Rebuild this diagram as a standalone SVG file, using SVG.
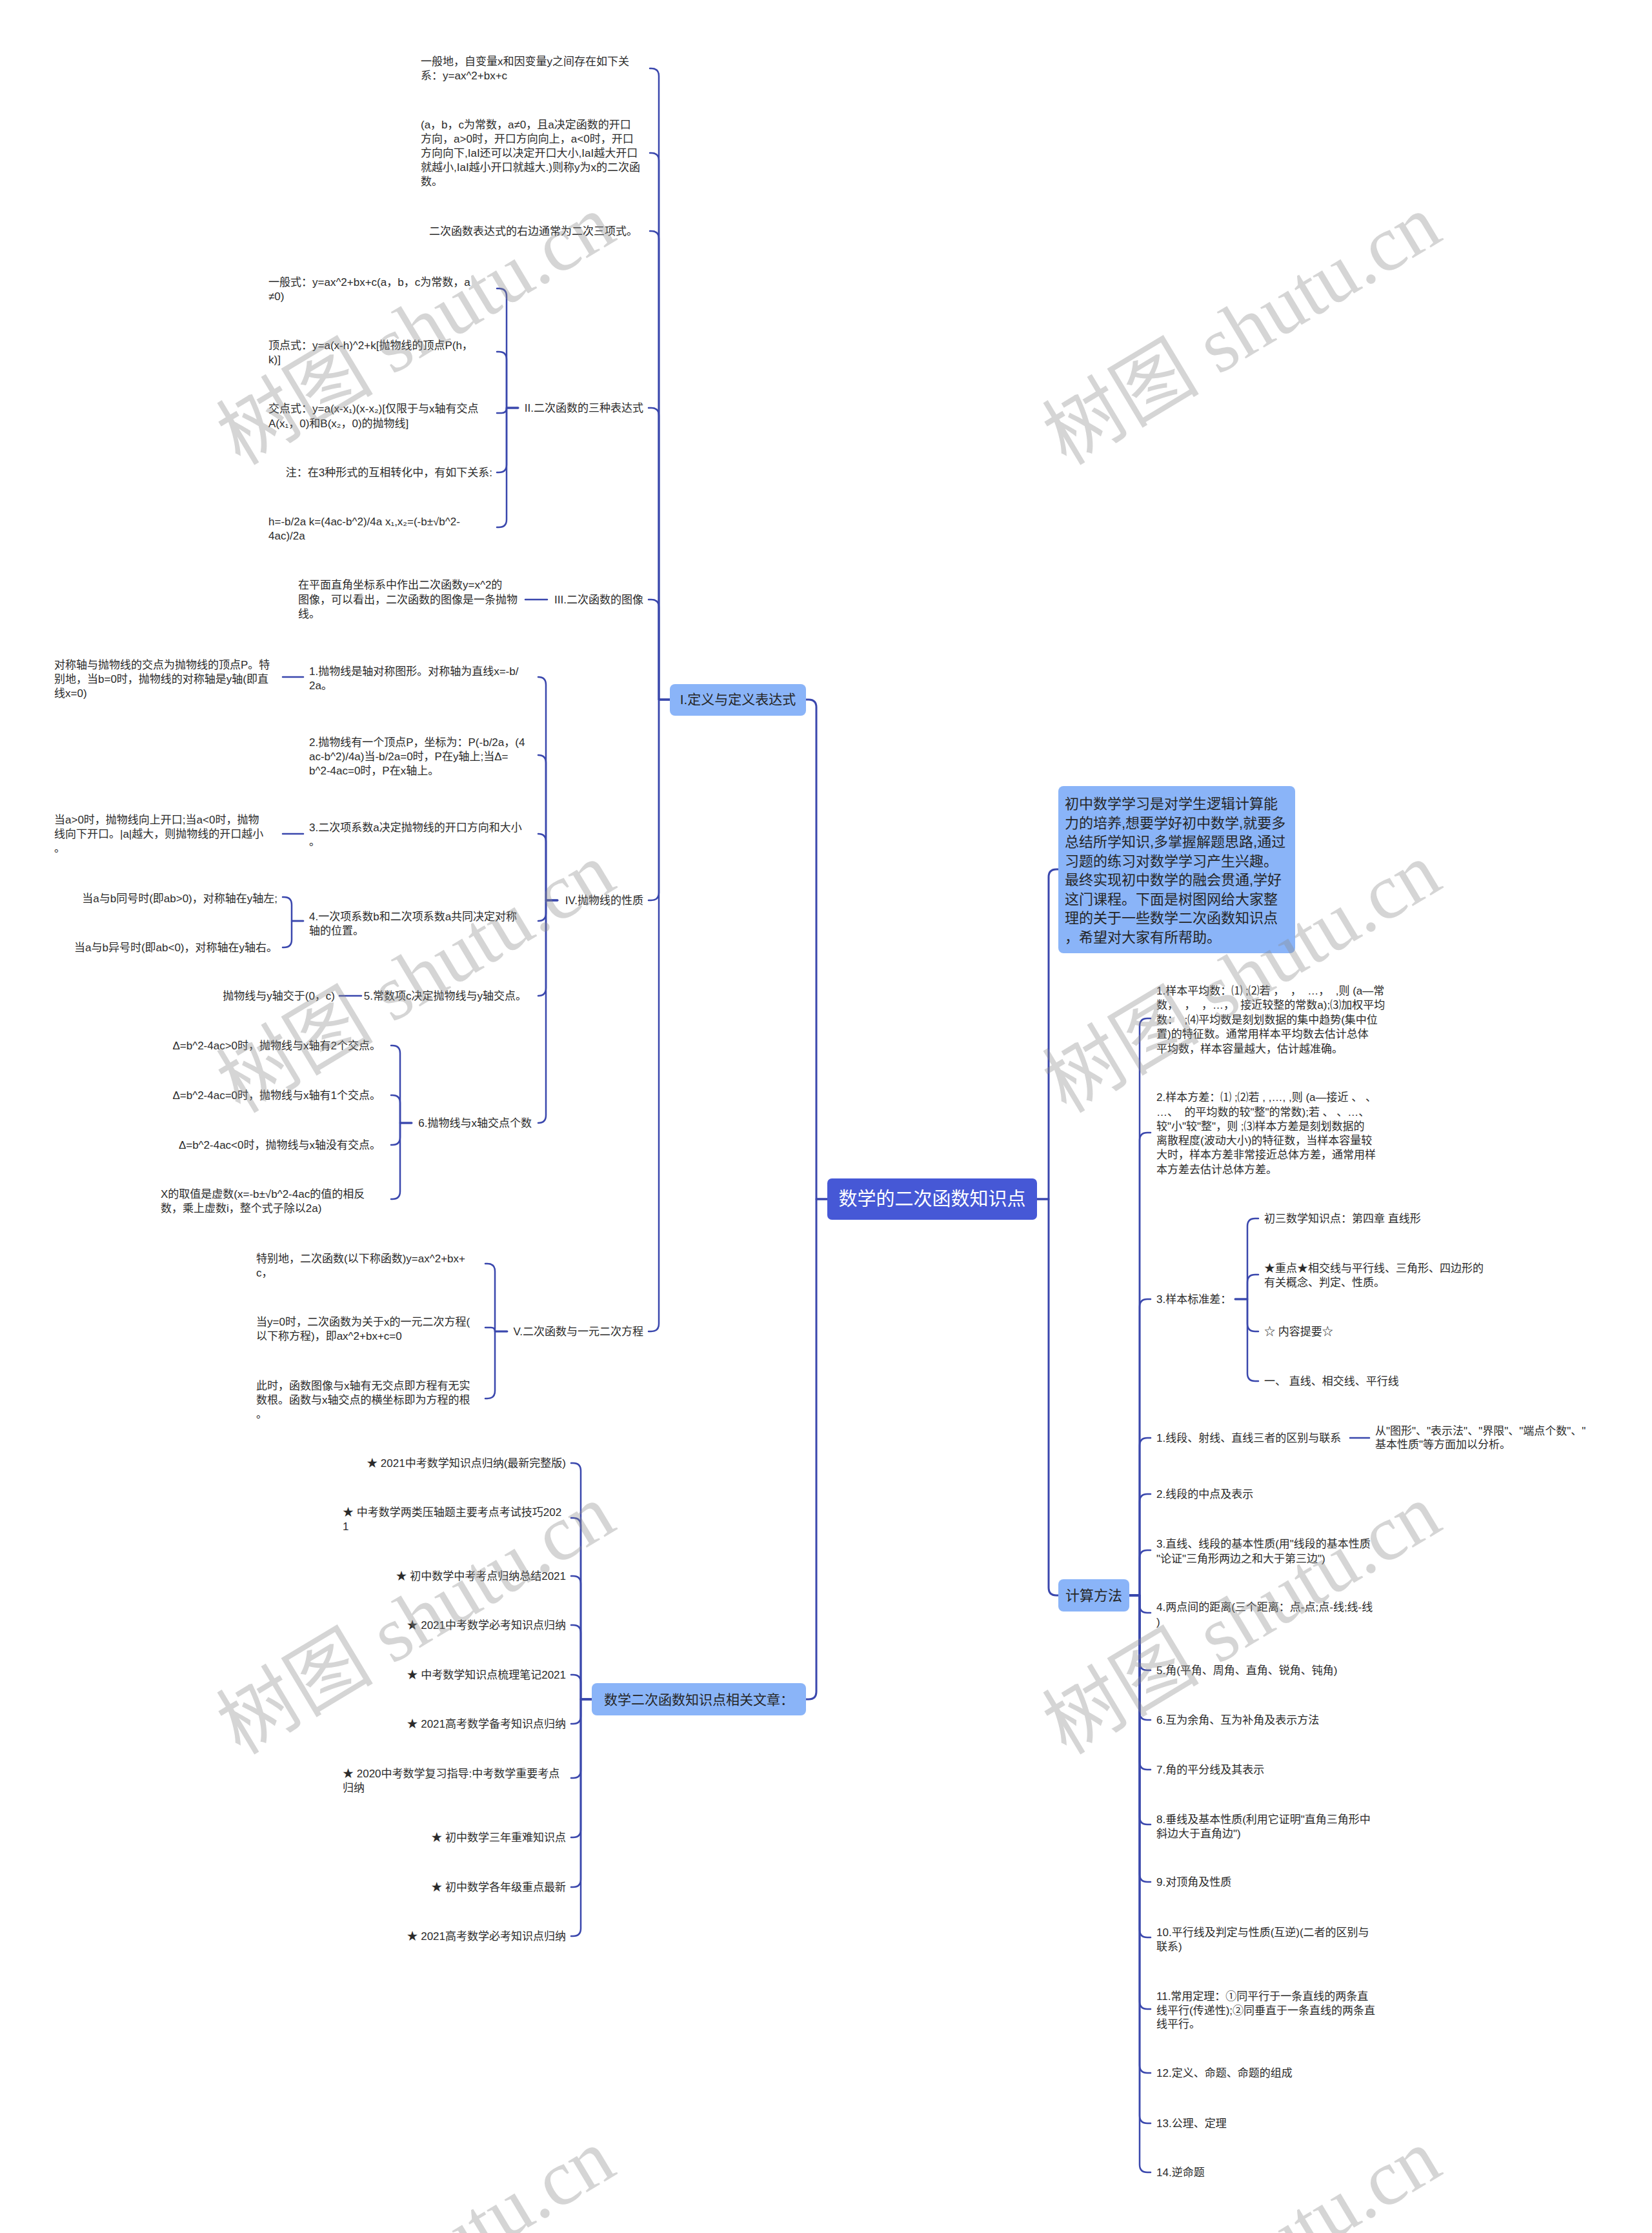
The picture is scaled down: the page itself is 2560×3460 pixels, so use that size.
<svg xmlns="http://www.w3.org/2000/svg" width="2560" height="3460" viewBox="0 0 2560 3460">
<style>
.t{font-family:"Liberation Sans","Noto Sans CJK SC",sans-serif;font-size:17px;fill:#2b2b2b;white-space:pre}
.e{text-anchor:end}
.m{text-anchor:middle}
.n1{fill:#8ab4f8}
.l1{font-family:"Liberation Sans","Noto Sans CJK SC",sans-serif;font-size:21px;fill:#262626}
.l1b{font-family:"Liberation Sans","Noto Sans CJK SC",sans-serif;font-size:22px;fill:#262626}
.c{fill:none;stroke:#3a47ad;stroke-width:2.5;stroke-linecap:round;stroke-linejoin:round}
.c0{stroke-width:3}
.wm{font-family:"Liberation Serif","Noto Sans CJK SC",serif;font-size:122px;fill:#8a8a8a;fill-opacity:0.36;text-anchor:middle}
</style>
<rect width="2560" height="3460" fill="#ffffff"/>

<g id="connectors">
<path class="c c0" d="M1282 1858 H1265 V1096 Q1265 1084 1253 1084 H1249"/>
<path class="c c0" d="M1282 1858 H1265 V2621 Q1265 2633 1253 2633 H1249"/>
<path class="c c0" d="M1607 1858 H1625 V1359 Q1625 1347 1637 1347 H1640"/>
<path class="c c0" d="M1607 1858 H1625 V2460 Q1625 2472 1637 2472 H1640"/>

<path class="c" d="M1038 1084 H1021 V118 Q1021 106 1009 106 H1007"/>
<path class="c" d="M1038 1084 H1021 V249 Q1021 237 1009 237 H1007"/>
<path class="c" d="M1038 1084 H1021 V370 Q1021 358 1009 358 H1007"/>
<path class="c" d="M1038 1084 H1021 V644 Q1021 632 1009 632 H1005"/>
<path class="c" d="M1038 1084 H1021 V941 Q1021 929 1009 929 H1005"/>
<path class="c" d="M1038 1084 H1021 V1383 Q1021 1395 1009 1395 H1005"/>
<path class="c" d="M1038 1084 H1021 V2051 Q1021 2063 1009 2063 H1005"/>

<path class="c" d="M803 632 H785 V459 Q785 447 773 447 H770"/>
<path class="c" d="M803 632 H785 V557 Q785 545 773 545 H770"/>
<path class="c" d="M803 632 H785 Q785 640 777 640 H770"/>
<path class="c" d="M803 632 H785 V720 Q785 732 773 732 H770"/>
<path class="c" d="M803 632 H785 V805 Q785 817 773 817 H770"/>

<path class="c" d="M848 929 H814"/>

<path class="c" d="M864 1395 H846 V1061 Q846 1049 834 1049"/>
<path class="c" d="M864 1395 H846 V1182 Q846 1170 834 1170"/>
<path class="c" d="M864 1395 H846 V1304 Q846 1292 834 1292"/>
<path class="c" d="M864 1395 H846 V1415 Q846 1427 834 1427"/>
<path class="c" d="M864 1395 H846 V1531 Q846 1543 834 1543"/>
<path class="c" d="M864 1395 H846 V1728 Q846 1740 834 1740"/>

<path class="c" d="M470 1049 H438"/>
<path class="c" d="M470 1292 H438"/>
<path class="c" d="M470 1427 H452 V1402 Q452 1390 440 1390 H438"/>
<path class="c" d="M470 1427 H452 V1456 Q452 1468 440 1468 H438"/>
<path class="c" d="M560 1543 H526"/>
<path class="c" d="M638 1740 H620 V1632 Q620 1620 608 1620 H606"/>
<path class="c" d="M638 1740 H620 V1709 Q620 1697 608 1697 H606"/>
<path class="c" d="M638 1740 H620 V1762 Q620 1774 608 1774 H606"/>
<path class="c" d="M638 1740 H620 V1846 Q620 1858 608 1858 H606"/>

<path class="c" d="M786 2063 H767 V1970 Q767 1958 755 1958 H752"/>
<path class="c" d="M786 2063 H767 Q767 2057 761 2057 H752"/>
<path class="c" d="M786 2063 H767 V2155 Q767 2167 755 2167 H752"/>

<path class="c" d="M917 2633 H900 V2279 Q900 2267 888 2267 H885"/>
<path class="c" d="M917 2633 H900 V2364 Q900 2352 888 2352 H885"/>
<path class="c" d="M917 2633 H900 V2454 Q900 2442 888 2442 H885"/>
<path class="c" d="M917 2633 H900 V2530 Q900 2518 888 2518 H885"/>
<path class="c" d="M917 2633 H900 V2607 Q900 2595 888 2595 H885"/>
<path class="c" d="M917 2633 H900 V2659 Q900 2671 888 2671 H885"/>
<path class="c" d="M917 2633 H900 V2743 Q900 2755 888 2755 H885"/>
<path class="c" d="M917 2633 H900 V2835 Q900 2847 888 2847 H885"/>
<path class="c" d="M917 2633 H900 V2912 Q900 2924 888 2924 H885"/>
<path class="c" d="M917 2633 H900 V2988 Q900 3000 888 3000 H885"/>

<path class="c" d="M1750 2472 H1766 V1590 Q1766 1578 1778 1578 H1783"/>
<path class="c" d="M1750 2472 H1766 V1767 Q1766 1755 1778 1755 H1783"/>
<path class="c" d="M1750 2472 H1766 V2025 Q1766 2013 1778 2013 H1783"/>
<path class="c" d="M1750 2472 H1766 V2240 Q1766 2228 1778 2228 H1783"/>
<path class="c" d="M1750 2472 H1766 V2327 Q1766 2315 1778 2315 H1783"/>
<path class="c" d="M1750 2472 H1766 V2414 Q1766 2402 1778 2402 H1783"/>
<path class="c" d="M1750 2472 H1766 V2487 Q1766 2499 1778 2499 H1783"/>
<path class="c" d="M1750 2472 H1766 V2576 Q1766 2588 1778 2588 H1783"/>
<path class="c" d="M1750 2472 H1766 V2653 Q1766 2665 1778 2665 H1783"/>
<path class="c" d="M1750 2472 H1766 V2730 Q1766 2742 1778 2742 H1783"/>
<path class="c" d="M1750 2472 H1766 V2815 Q1766 2827 1778 2827 H1783"/>
<path class="c" d="M1750 2472 H1766 V2904 Q1766 2916 1778 2916 H1783"/>
<path class="c" d="M1750 2472 H1766 V2990 Q1766 3002 1778 3002 H1783"/>
<path class="c" d="M1750 2472 H1766 V3101 Q1766 3113 1778 3113 H1783"/>
<path class="c" d="M1750 2472 H1766 V3200 Q1766 3212 1778 3212 H1783"/>
<path class="c" d="M1750 2472 H1766 V3278 Q1766 3290 1778 3290 H1783"/>
<path class="c" d="M1750 2472 H1766 V3354 Q1766 3366 1778 3366 H1783"/>

<path class="c" d="M1914 2013 H1933 V1900 Q1933 1888 1945 1888 H1950"/>
<path class="c" d="M1914 2013 H1933 V1987 Q1933 1975 1945 1975 H1950"/>
<path class="c" d="M1914 2013 H1933 V2051 Q1933 2063 1945 2063 H1950"/>
<path class="c" d="M1914 2013 H1933 V2128 Q1933 2140 1945 2140 H1950"/>

<path class="c" d="M2092 2228 H2122"/>
</g>

<g id="root">
<rect x="1282" y="1826" width="325" height="64" rx="7" fill="#4658d6"/>
<text x="1444.5" y="1868" class="m" font-family="Liberation Sans,Noto Sans CJK SC,sans-serif" font-size="29" fill="#ffffff">数学的二次函数知识点</text>
</g>

<g id="node-I">
<rect class="n1" x="1038" y="1060" width="211" height="49" rx="8"/>
<text class="l1 m" x="1143.5" y="1091">I.定义与定义表达式</text>
</g>

<g id="node-articles">
<rect class="n1" x="917" y="2608" width="332" height="50" rx="8"/>
<text class="l1 m" x="1083" y="2641">数学二次函数知识点相关文章：</text>
</g>

<g id="node-intro">
<rect class="n1" x="1640" y="1218" width="367" height="259" rx="8"/>
<text class="l1b" x="1650" y="1253">初中数学学习是对学生逻辑计算能</text>
<text class="l1b" x="1650" y="1283">力的培养,想要学好初中数学,就要多</text>
<text class="l1b" x="1650" y="1312">总结所学知识,多掌握解题思路,通过</text>
<text class="l1b" x="1650" y="1342">习题的练习对数学学习产生兴趣。</text>
<text class="l1b" x="1650" y="1371">最终实现初中数学的融会贯通,学好</text>
<text class="l1b" x="1650" y="1401">这门课程。下面是树图网给大家整</text>
<text class="l1b" x="1650" y="1430">理的关于一些数学二次函数知识点</text>
<text class="l1b" x="1650" y="1460">，希望对大家有所帮助。</text>
</g>

<g id="node-calc">
<rect class="n1" x="1640" y="2447" width="110" height="50" rx="8"/>
<text class="l1b m" x="1695" y="2480">计算方法</text>
</g>

<g id="I-1"><text class="t" x="652" y="101">一般地，自变量x和因变量y之间存在如下关</text><text class="t" x="652" y="123">系：y=ax^2+bx+c</text></g>
<g id="I-2">
<text class="t" x="652" y="199">(a，b，c为常数，a≠0，且a决定函数的开口</text>
<text class="t" x="652" y="221">方向，a&gt;0时，开口方向向上，a&lt;0时，开口</text>
<text class="t" x="652" y="243">方向向下,IaI还可以决定开口大小,IaI越大开口</text>
<text class="t" x="652" y="265">就越小,IaI越小开口就越大.)则称y为x的二次函</text>
<text class="t" x="652" y="287">数。</text>
</g>
<g id="I-3"><text class="t e" x="988" y="364">二次函数表达式的右边通常为二次三项式。</text></g>

<g id="II"><text class="t e" x="997" y="638">II.二次函数的三种表达式</text></g>
<g id="II-1"><text class="t" x="416" y="443">一般式：y=ax^2+bx+c(a，b，c为常数，a</text><text class="t" x="416" y="465">≠0)</text></g>
<g id="II-2"><text class="t" x="416" y="541">顶点式：y=a(x-h)^2+k[抛物线的顶点P(h，</text><text class="t" x="416" y="563">k)]</text></g>
<g id="II-3"><text class="t" x="416" y="639">交点式：y=a(x-x₁)(x-x₂)[仅限于与x轴有交点</text><text class="t" x="416" y="662">A(x₁，0)和B(x₂，0)的抛物线]</text></g>
<g id="II-4"><text class="t e" x="763" y="738">注：在3种形式的互相转化中，有如下关系:</text></g>
<g id="II-5"><text class="t" x="416" y="814">h=-b/2a k=(4ac-b^2)/4a x₁,x₂=(-b±√b^2-</text><text class="t" x="416" y="836">4ac)/2a</text></g>

<g id="III"><text class="t e" x="997" y="935">III.二次函数的图像</text></g>
<g id="III-1">
<text class="t" x="462" y="912">在平面直角坐标系中作出二次函数y=x^2的</text>
<text class="t" x="462" y="935">图像，可以看出，二次函数的图像是一条抛物</text>
<text class="t" x="462" y="957">线。</text>
</g>

<g id="IV"><text class="t e" x="997" y="1401">IV.抛物线的性质</text></g>
<g id="IV-1"><text class="t" x="479" y="1046">1.抛物线是轴对称图形。对称轴为直线x=-b/</text><text class="t" x="479" y="1068">2a。</text></g>
<g id="IV-1-1">
<text class="t" x="84" y="1036">对称轴与抛物线的交点为抛物线的顶点P。特</text>
<text class="t" x="84" y="1058">别地，当b=0时，抛物线的对称轴是y轴(即直</text>
<text class="t" x="84" y="1080">线x=0)</text>
</g>
<g id="IV-2">
<text class="t" x="479" y="1156">2.抛物线有一个顶点P，坐标为：P(-b/2a，(4</text>
<text class="t" x="479" y="1178">ac-b^2)/4a)当-b/2a=0时，P在y轴上;当Δ=</text>
<text class="t" x="479" y="1200">b^2-4ac=0时，P在x轴上。</text>
</g>
<g id="IV-3"><text class="t" x="479" y="1288">3.二次项系数a决定抛物线的开口方向和大小</text><text class="t" x="479" y="1310">。</text></g>
<g id="IV-3-1">
<text class="t" x="84" y="1276">当a&gt;0时，抛物线向上开口;当a&lt;0时，抛物</text>
<text class="t" x="84" y="1298">线向下开口。|a|越大，则抛物线的开口越小</text>
<text class="t" x="84" y="1320">。</text>
</g>
<g id="IV-4"><text class="t" x="479" y="1426">4.一次项系数b和二次项系数a共同决定对称</text><text class="t" x="479" y="1448">轴的位置。</text></g>
<g id="IV-4-1"><text class="t e" x="430" y="1398">当a与b同号时(即ab&gt;0)，对称轴在y轴左;</text></g>
<g id="IV-4-2"><text class="t e" x="430" y="1474">当a与b异号时(即ab&lt;0)，对称轴在y轴右。</text></g>
<g id="IV-5"><text class="t e" x="816" y="1549">5.常数项c决定抛物线与y轴交点。</text></g>
<g id="IV-5-1"><text class="t e" x="519" y="1549">抛物线与y轴交于(0，c)</text></g>
<g id="IV-6"><text class="t e" x="824" y="1746">6.抛物线与x轴交点个数</text></g>
<g id="IV-6-1"><text class="t e" x="590" y="1626">Δ=b^2-4ac&gt;0时，抛物线与x轴有2个交点。</text></g>
<g id="IV-6-2"><text class="t e" x="590" y="1703">Δ=b^2-4ac=0时，抛物线与x轴有1个交点。</text></g>
<g id="IV-6-3"><text class="t e" x="590" y="1780">Δ=b^2-4ac&lt;0时，抛物线与x轴没有交点。</text></g>
<g id="IV-6-4"><text class="t" x="249" y="1856">X的取值是虚数(x=-b±√b^2-4ac的值的相反</text><text class="t" x="249" y="1878">数，乘上虚数i，整个式子除以2a)</text></g>

<g id="V"><text class="t e" x="997" y="2069">V.二次函数与一元二次方程</text></g>
<g id="V-1"><text class="t" x="397" y="1956">特别地，二次函数(以下称函数)y=ax^2+bx+</text><text class="t" x="397" y="1978">c，</text></g>
<g id="V-2"><text class="t" x="397" y="2054">当y=0时，二次函数为关于x的一元二次方程(</text><text class="t" x="397" y="2076">以下称方程)，即ax^2+bx+c=0</text></g>
<g id="V-3">
<text class="t" x="397" y="2153">此时，函数图像与x轴有无交点即方程有无实</text>
<text class="t" x="397" y="2175">数根。函数与x轴交点的横坐标即为方程的根</text>
<text class="t" x="397" y="2197">。</text>
</g>

<g id="A-1"><text class="t e" x="877" y="2273">★ 2021中考数学知识点归纳(最新完整版)</text></g>
<g id="A-2"><text class="t" x="531" y="2349">★ 中考数学两类压轴题主要考点考试技巧202</text><text class="t" x="531" y="2371">1</text></g>
<g id="A-3"><text class="t e" x="877" y="2448">★ 初中数学中考考点归纳总结2021</text></g>
<g id="A-4"><text class="t e" x="877" y="2524">★ 2021中考数学必考知识点归纳</text></g>
<g id="A-5"><text class="t e" x="877" y="2601">★ 中考数学知识点梳理笔记2021</text></g>
<g id="A-6"><text class="t e" x="877" y="2677">★ 2021高考数学备考知识点归纳</text></g>
<g id="A-7"><text class="t" x="531" y="2754">★ 2020中考数学复习指导:中考数学重要考点</text><text class="t" x="531" y="2776">归纳</text></g>
<g id="A-8"><text class="t e" x="877" y="2853">★ 初中数学三年重难知识点</text></g>
<g id="A-9"><text class="t e" x="877" y="2930">★ 初中数学各年级重点最新</text></g>
<g id="A-10"><text class="t e" x="877" y="3006">★ 2021高考数学必考知识点归纳</text></g>

<g id="R-1">
<text class="t" x="1792" y="1541">1.样本平均数：⑴ ;⑵若 ，  ，  …，  ,则 (a—常</text>
<text class="t" x="1792" y="1563">数，  ，  ，…，  接近较整的常数a);⑶加权平均</text>
<text class="t" x="1792" y="1586">数：  ;⑷平均数是刻划数据的集中趋势(集中位</text>
<text class="t" x="1792" y="1608">置)的特征数。通常用样本平均数去估计总体</text>
<text class="t" x="1792" y="1631">平均数，样本容量越大，估计越准确。</text>
</g>
<g id="R-2">
<text class="t" x="1792" y="1706">2.样本方差：⑴ ;⑵若 , ,…, ,则 (a—接近 、 、</text>
<text class="t" x="1792" y="1729">…、  的平均数的较"整"的常数);若 、 、…、</text>
<text class="t" x="1792" y="1751">较"小"较"整"，则 ;⑶样本方差是刻划数据的</text>
<text class="t" x="1792" y="1773">离散程度(波动大小)的特征数，当样本容量较</text>
<text class="t" x="1792" y="1795">大时，样本方差非常接近总体方差，通常用样</text>
<text class="t" x="1792" y="1818">本方差去估计总体方差。</text>
</g>
<g id="R-3"><text class="t" x="1792" y="2019">3.样本标准差：</text></g>
<g id="R-3-1"><text class="t" x="1959" y="1894">初三数学知识点：第四章 直线形</text></g>
<g id="R-3-2"><text class="t" x="1959" y="1971">★重点★相交线与平行线、三角形、四边形的</text><text class="t" x="1959" y="1993">有关概念、判定、性质。</text></g>
<g id="R-3-3"><text class="t" x="1959" y="2069">☆ 内容提要☆</text></g>
<g id="R-3-4"><text class="t" x="1959" y="2146">一、 直线、相交线、平行线</text></g>
<g id="R-4"><text class="t" x="1792" y="2234">1.线段、射线、直线三者的区别与联系</text></g>
<g id="R-4-1"><text class="t" x="2131" y="2223">从"图形"、"表示法"、"界限"、"端点个数"、"</text><text class="t" x="2131" y="2244">基本性质"等方面加以分析。</text></g>
<g id="R-5"><text class="t" x="1792" y="2321">2.线段的中点及表示</text></g>
<g id="R-6"><text class="t" x="1792" y="2398">3.直线、线段的基本性质(用"线段的基本性质</text><text class="t" x="1792" y="2421">"论证"三角形两边之和大于第三边")</text></g>
<g id="R-7"><text class="t" x="1792" y="2496">4.两点间的距离(三个距离：点-点;点-线;线-线</text><text class="t" x="1792" y="2519">)</text></g>
<g id="R-8"><text class="t" x="1792" y="2594">5.角(平角、周角、直角、锐角、钝角)</text></g>
<g id="R-9"><text class="t" x="1792" y="2671">6.互为余角、互为补角及表示方法</text></g>
<g id="R-10"><text class="t" x="1792" y="2748">7.角的平分线及其表示</text></g>
<g id="R-11"><text class="t" x="1792" y="2825">8.垂线及基本性质(利用它证明"直角三角形中</text><text class="t" x="1792" y="2847">斜边大于直角边")</text></g>
<g id="R-12"><text class="t" x="1792" y="2922">9.对顶角及性质</text></g>
<g id="R-13"><text class="t" x="1792" y="3000">10.平行线及判定与性质(互逆)(二者的区别与</text><text class="t" x="1792" y="3022">联系)</text></g>
<g id="R-14">
<text class="t" x="1792" y="3099">11.常用定理：①同平行于一条直线的两条直</text>
<text class="t" x="1792" y="3121">线平行(传递性);②同垂直于一条直线的两条直</text>
<text class="t" x="1792" y="3142">线平行。</text>
</g>
<g id="R-15"><text class="t" x="1792" y="3218">12.定义、命题、命题的组成</text></g>
<g id="R-16"><text class="t" x="1792" y="3296">13.公理、定理</text></g>
<g id="R-17"><text class="t" x="1792" y="3372">14.逆命题</text></g>

<g id="watermarks">
<text class="wm" x="645" y="552" transform="rotate(-31 645 512)">树图 shutu.cn</text>
<text class="wm" x="1925" y="552" transform="rotate(-31 1925 512)">树图 shutu.cn</text>
<text class="wm" x="645" y="1556" transform="rotate(-31 645 1516)">树图 shutu.cn</text>
<text class="wm" x="1925" y="1556" transform="rotate(-31 1925 1516)">树图 shutu.cn</text>
<text class="wm" x="645" y="2550" transform="rotate(-31 645 2510)">树图 shutu.cn</text>
<text class="wm" x="1925" y="2550" transform="rotate(-31 1925 2510)">树图 shutu.cn</text>
<text class="wm" x="645" y="3549" transform="rotate(-31 645 3509)">树图 shutu.cn</text>
<text class="wm" x="1925" y="3549" transform="rotate(-31 1925 3509)">树图 shutu.cn</text>
</g>
</svg>
